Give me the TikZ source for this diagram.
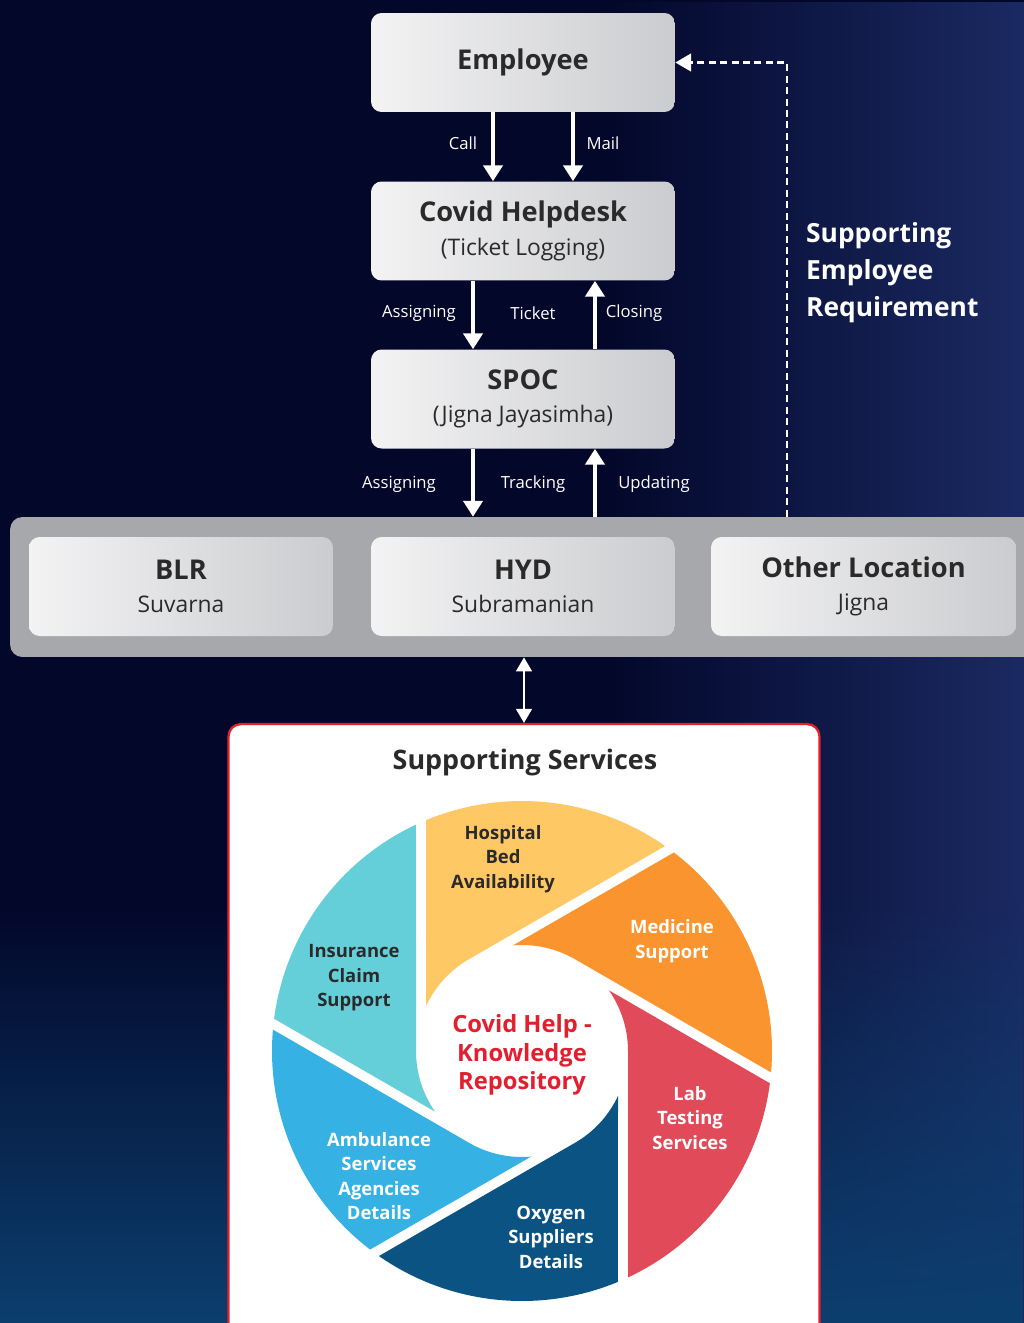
\documentclass[tikz,border=0pt]{standalone}
\usepackage{fontspec}
\setmainfont{Open Sans}
\usetikzlibrary{arrows.meta,fadings}

\definecolor{bgnavy}{HTML}{03072A}
\definecolor{bgblue}{HTML}{1B2A62}
\definecolor{bgteal}{HTML}{0C3F6E}
\definecolor{barcol}{HTML}{A7A8AC}
\definecolor{boxhi}{HTML}{F3F3F4}
\definecolor{boxlo}{HTML}{CBCCCF}
\definecolor{inkdark}{HTML}{2A2A2A}
\definecolor{framered}{HTML}{E3202B}
\definecolor{hubred}{HTML}{E21F2E}
\definecolor{cHosp}{HTML}{FEC965}
\definecolor{cMed}{HTML}{FA942E}
\definecolor{cLab}{HTML}{E04A59}
\definecolor{cOxy}{HTML}{0A5383}
\definecolor{cAmb}{HTML}{35B1E3}
\definecolor{cIns}{HTML}{65CFD9}

\newcommand{\cardtitle}[1]{{\bfseries\fontsize{15.5}{19}\selectfont #1}}

\begin{document}
\begin{tikzpicture}[x=0.02cm, y=0.02cm,
    card/.style={rounded corners=6pt, left color=boxhi, right color=boxlo,
      minimum width=6.08cm, minimum height=1.98cm, align=center,
      text=inkdark, font=\fontsize{13}{19}\selectfont},
    bar/.style={fill=barcol, rounded corners=7pt,
      minimum width=20.52cm, minimum height=2.8cm},
    svc/.style={draw=framered, line width=1.3pt, fill=white, rounded corners=7pt,
      minimum width=11.82cm, minimum height=12.6cm},
    lbl/.style={text=white, inner sep=0pt, font=\fontsize{9.5}{11}\selectfont},
    arr/.style={white, line width=1.8pt, -{Triangle[width=11pt,length=9pt]}},
    darr/.style={white, line width=1.2pt,
      {Triangle[width=9pt,length=8pt]}-{Triangle[width=9pt,length=8pt]}},
    dashline/.style={white, line width=1.5pt, dash pattern=on 4pt off 2.5pt,
      -{Triangle[width=10pt,length=9pt]}},
    side/.style={anchor=west, align=left, text=white,
      font=\bfseries\fontsize{15}{21}\selectfont},
    heading/.style={text=inkdark, font=\bfseries\fontsize{15.3}{18}\selectfont},
    blade/.style={align=center, font=\bfseries\fontsize{10.5}{14}\selectfont},
    hub/.style={align=center, text=hubred, font=\bfseries\fontsize{13.5}{16.2}\selectfont}]
  \useasboundingbox (0,0) rectangle (1024,-1323);
  \clip (0,0) rectangle (1024,-1323);
  % background
  \fill[bgnavy] (0,0) rectangle (1024,-1323);
  \fill[bgblue, path fading=west] (600,0) rectangle (1024,-1323);
  \fill[bgteal, path fading=north] (0,-900) rectangle (1024,-1323);

  % ticket flow
  \node[card] (employee) at (523,-62.5) {\cardtitle{Employee}};
  \node[card] (helpdesk) at (523,-231) {\cardtitle{Covid Helpdesk}\\(Ticket Logging)};
  \node[card] (spoc) at (523,-399) {\cardtitle{SPOC}\\(Jigna Jayasimha)};

  % locations
  \node[bar] (bar) at (523,-587) {};
  \node[card] (blr) at (181,-586.5) {\cardtitle{BLR}\\Suvarna};
  \node[card] (hyd) at (523,-586.5) {\cardtitle{HYD}\\Subramanian};
  \node[card, minimum width=6.1cm] (other) at (863.5,-586.5) {\cardtitle{Other Location}\\Jigna};

  \draw[arr] ([xshift=-0.6cm]employee.south) -- ([xshift=-0.6cm]helpdesk.north);
  \draw[arr] ([xshift=1cm]employee.south) -- ([xshift=1cm]helpdesk.north);
  \draw[arr] ([xshift=-1cm]helpdesk.south) -- ([xshift=-1cm]spoc.north);
  \draw[arr] ([xshift=1.44cm]spoc.north) -- ([xshift=1.44cm]helpdesk.south);
  \draw[arr] ([xshift=-1cm]spoc.south) -- ([xshift=-1cm]bar.north);
  \draw[arr] ([xshift=1.44cm]bar.north) -- ([xshift=1.44cm]spoc.south);
  \draw[dashline] ([xshift=5.28cm]bar.north) |- (employee.east);

  \node[lbl] (call) at (463,-143) {Call};
  \node[lbl] (mail) at (603,-143) {Mail};
  \node[lbl] (assignA) at (419,-313) {Assigning};
  \node[lbl] (ticket) at (533,-313) {Ticket};
  \node[lbl] (closing) at (634,-313) {Closing};
  \node[lbl] (assignB) at (399,-484) {Assigning};
  \node[lbl] (tracking) at (533,-484) {Tracking};
  \node[lbl] (updating) at (654,-484) {Updating};
  \node[side] (req) at (800,-273) {Supporting\\Employee\\Requirement};

  % supporting services
  \node[svc] (services) at (524,-1039) {};
  \draw[darr] (bar.south -| services.north) -- (services.north);
  \node[heading] (svctitle) at (525,-763) {Supporting Services};

  \begin{scope}[shift={(522,-1051)}]
    \foreach \p/\c in {180/cHosp,120/cMed,60/cLab,0/cOxy,-60/cAmb,-120/cIns}
      \fill[\c] (\p-25.09:106) arc[start angle=\p-25.09, end angle=\p-60, radius=106]
        -- (\p-124.91:250) arc[start angle=\p-124.91, end angle=\p-67.42, radius=250] -- cycle;
  \end{scope}

  \node[blade, text=inkdark] (hosp) at (503,-859) {Hospital\\Bed\\Availability};
  \node[blade, text=white] (med) at (672,-941) {Medicine\\Support};
  \node[blade, text=white] (lab) at (690,-1118) {Lab\\Testing\\Services};
  \node[blade, text=white] (oxy) at (551,-1237) {Oxygen\\Suppliers\\Details};
  \node[blade, text=white] (amb) at (379,-1176) {Ambulance\\Services\\Agencies\\Details};
  \node[blade, text=inkdark] (ins) at (354,-978) {Insurance\\Claim\\Support};
  \node[hub] (hub) at (522,-1055) {Covid Help -\\Knowledge\\Repository};
\end{tikzpicture}
\end{document}
